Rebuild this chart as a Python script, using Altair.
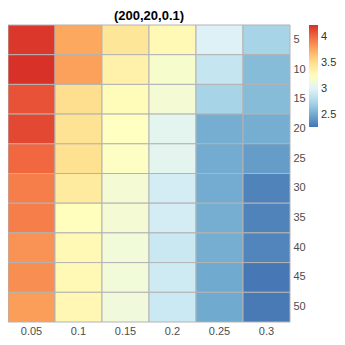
import altair as alt
import pandas as pd

cols = ["0.05", "0.1", "0.15", "0.2", "0.25", "0.3"]
rows = [5, 10, 15, 20, 25, 30, 35, 40, 45, 50]

# values per column, rows 5..50
v005 = [4.20, 4.22, 4.09, 4.13, 4.01, 3.92, 3.92, 3.84, 3.86, 3.80]
v010 = [3.76, 3.79, 3.50, 3.47, 3.49, 3.41, 3.26, 3.30, 3.30, 3.31]
v015 = [3.45, 3.36, 3.28, 3.24, 3.23, 3.16, 3.16, 3.14, 3.14, 3.13]
v020 = [3.30, 3.19, 3.16, 3.04, 3.04, 2.95, 2.95, 2.90, 2.92, 2.91]
v025 = [2.99, 2.88, 2.74, 2.52, 2.51, 2.51, 2.52, 2.52, 2.50, 2.50]
v030 = [2.74, 2.60, 2.60, 2.52, 2.44, 2.33, 2.33, 2.34, 2.28, 2.29]

legend_values = [2.5, 3, 3.5, 4]

palette = ["#4575b4", "#74add1", "#abd9e9", "#e0f3f8", "#ffffbf",
           "#fee090", "#fdae61", "#f46d43", "#d73027"]

recs = []
for c, vals in zip(cols, [v005, v010, v015, v020, v025, v030]):
    for r, v in zip(rows, vals):
        recs.append({"x": c, "y": r, "v": v})
df = pd.DataFrame(recs)

chart = alt.Chart(df).mark_rect(stroke="#b3b3b3", strokeWidth=1).encode(
    x=alt.X("x:N", sort=cols, title=None,
            axis=alt.Axis(labelAngle=0, domain=False, ticks=False,
                          labelColor="#4d4d4d", labelFontSize=11,
                          labelFont="Liberation Sans", labelPadding=3)),
    y=alt.Y("y:O", sort=rows, title=None,
            axis=alt.Axis(orient="right", domain=False, ticks=False,
                          labelColor="#4d4d4d", labelFontSize=11,
                          labelFont="Liberation Sans", labelPadding=3)),
    color=alt.Color("v:Q", title=None,
                    scale=alt.Scale(domain=[2.27, 4.23], range=palette, nice=False,
                                    interpolate="rgb"),
                    legend=alt.Legend(orient="none", legendX=301, legendY=0,
                                      gradientLength=102, gradientThickness=9,
                                      values=legend_values, format=".1~f",
                                      labelFontSize=11,
                                      labelFont="Liberation Sans", labelColor="#333333",
                                      padding=0, gradientStrokeWidth=0,
                                      labelOffset=3, labelOverlap=False)),
).properties(
    width=282, height=297,
    title=alt.Title("(200,20,0.1)", fontSize=13, font="Liberation Sans",
                    fontWeight="bold", anchor="middle", offset=2),
    autosize=alt.AutoSizeParams(type="none"),
    padding={"left": 0, "top": 17, "right": 47, "bottom": 15},
).configure_view(stroke=None).configure_scale(bandPaddingInner=0, bandPaddingOuter=0)

chart.save("out.html", embed_options={"renderer": "svg", "actions": False})
